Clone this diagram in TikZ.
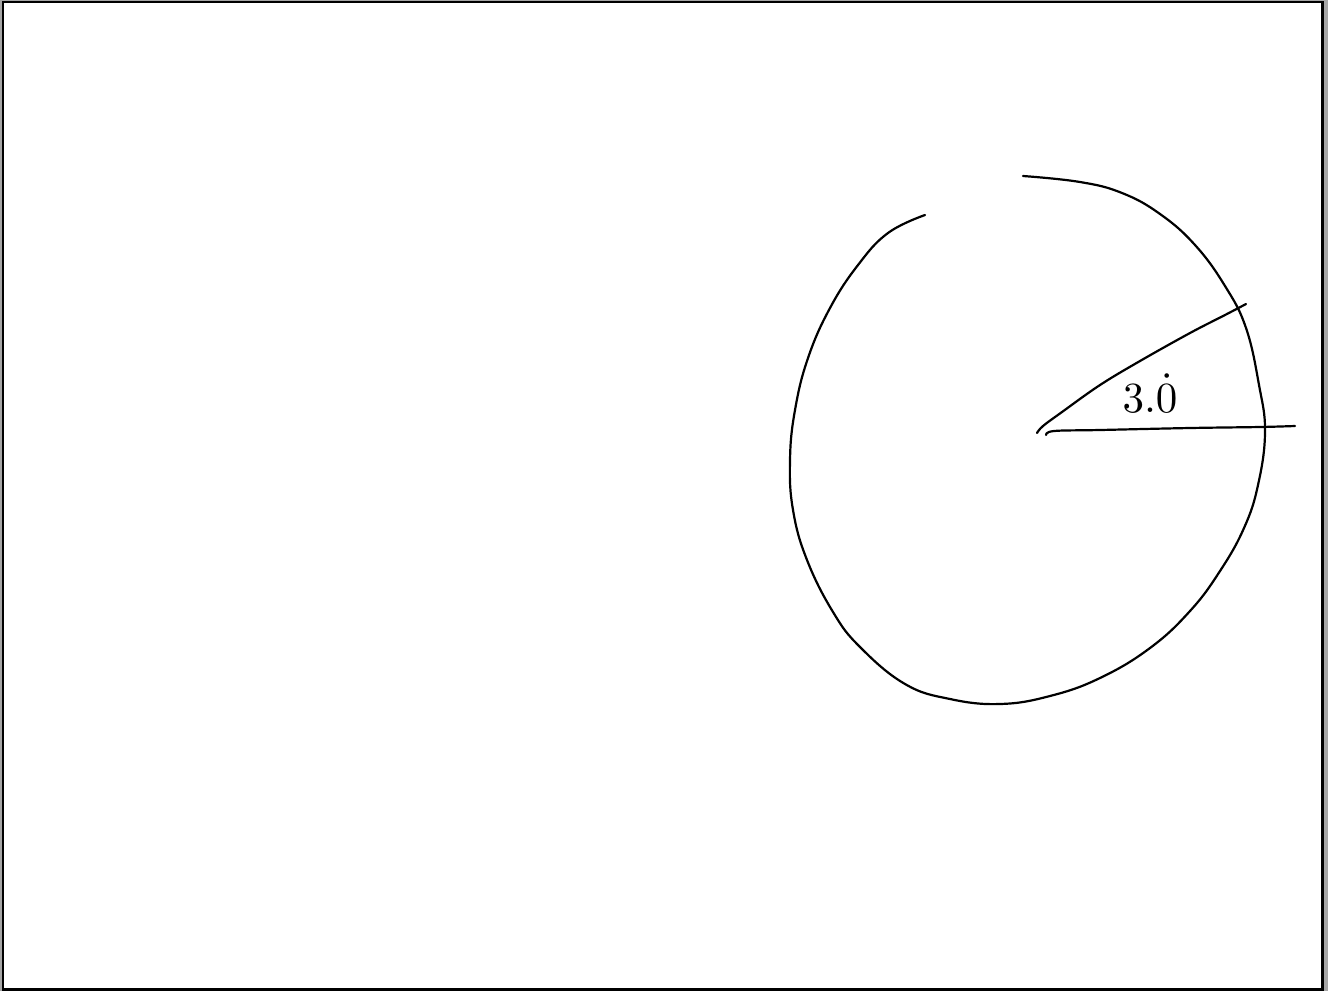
\documentclass[tikz,border=0pt]{standalone}
\usepackage{graphicx}
\begin{document}
\begin{tikzpicture}[x=1pt,y=-1pt,
  ink/.style={line width=2.2pt,line cap=round,line join=round,black}]
\useasboundingbox (0,0) rectangle (1337,991);
\fill[white] (0,0) rectangle (1337,991);
% frame
\fill[gray!70] (1323,0) rectangle (1328,991);
\fill[gray!70] (0,0) rectangle (1.5,991);
\fill[gray!70] (0,0) rectangle (1328,1);
\draw[line width=2.5pt,black] (3.2,2.2) rectangle (1322.5,989.5);
% circle (hand drawn, one stroke with gap at top)
\draw[ink] plot[smooth,tension=0.7] coordinates {
 (1023,176) (1080,182) (1122,193) (1160,214) (1195,245) (1225,286)
 (1246,328) (1259,385) (1265,432) (1258,485) (1244,528) (1220,571)
 (1190,611) (1150,648) (1100,678) (1050,696) (1000,704) (950,699)
 (905,684) (860,647) (833,612) (807,560) (793,510) (790,460)
 (795,410) (808,358) (830,308) (858,265) (888,233) (925,215)};
% radial lines
\draw[ink] plot[smooth,tension=0.6] coordinates {
 (1037,433) (1043,426) (1062,412) (1100,385) (1140,361) (1190,333) (1225,315) (1246,304)};
\draw[ink] plot[smooth,tension=0.6] coordinates {
 (1046,435) (1054,431) (1100,430) (1190,428) (1260,427) (1295,426)};
% label
\node[inner sep=0pt,anchor=base] (lbl) at (1150,412) {\scalebox{4.3}{$3.\dot{0}$}};
\end{tikzpicture}
\end{document}
